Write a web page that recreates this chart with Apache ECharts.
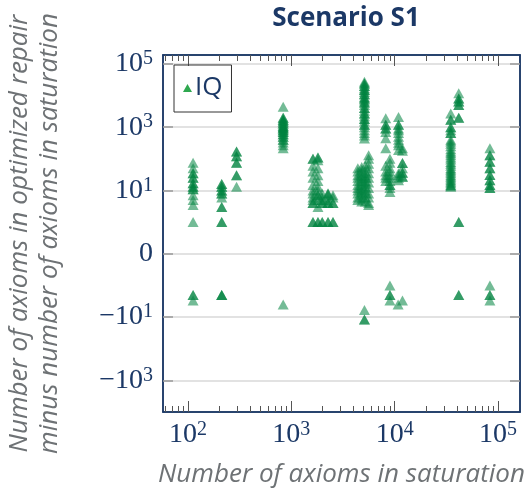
<!DOCTYPE html>
<html>
<head>
<meta charset="utf-8">
<script src="https://cdn.jsdelivr.net/npm/echarts@6/dist/echarts.min.js"></script>
<style>
html, body { margin: 0; padding: 0; background: #fff; }
#main { width: 529px; height: 492px; }
</style>
</head>
<body>
<div id="main"></div>
<script>
// number of axioms in saturation, one entry per column of points
var saturation = [112, 212, 295, 834, 1620, 1810, 1990, 2265, 2530, 4400, 4800, 5100, 5200, 5600,
                  8200, 9000, 10800, 10900, 11900, 34900, 41700, 83500];
// axioms in optimized repair minus axioms in saturation, per column (repeated values = stacked points)
var difference = [
  [75, 50, 35, 35, 25, 25, 17, 17, 13, 13, 11, 11, 7, 5, 3.5, 1, -2, -2, -3],
  [16, 16, 13, 13, 10, 10, 8, 8, 6, 3, 3, 1, 1, -2, -2, -2],
  [170, 170, 120, 120, 75, 75, 30, 30, 13],
  [4400, 2000, 2000, 1700, 1700, 1500, 1500, 1300, 1300, 1100, 1100, 1000, 1000, 900, 900, 800, 800,
   700, 700, 600, 600, 500, 500, 400, 400, 330, 270, 215, -4],
  [100, 100, 60, 40, 25, 15, 10, 8, 6, 5, 4, 4, 1, 1],
  [110, 110, 90, 50, 30, 20, 13, 10, 7, 7, 5, 3, 1, 1],
  [8, 6, 5, 4, 4, 1, 1],
  [8, 8, 7, 5, 4, 4, 1, 1],
  [7, 6, 4, 4, 1, 1],
  [50, 40, 30, 25, 20, 15, 12, 10, 8, 6, 5],
  [55, 45, 35, 28, 22, 18, 14, 11, 9, 7, 5.5, 4.5],
  [27000, 24000, 24000, 20000, 20000, 17000, 15000, 15000, 13000, 11000, 11000, 9000, 8000, 8000,
   7000, 6000, 6000, 5000, 4000, 4000, 3300, 2700, 2700, 2200, 1800, 1800, 1500, 1200, 1200, 1000,
   800, 650, 550, 440, -6, -12, -12],
  [60, 40, 30, 25, 20, 16, 13, 10, 8, 6, 4.5],
  [130, 100, 70, 50, 35, 25, 18, 12, 8, 6, 4, 3.5],
  [1900, 1200, 1200, 900, 900, 700, 450, 215, 60, 40, 30, 25, 20],
  [100, 75, 50, 40, 30, 25, 20, 15, 15, 12, 9, -1, -2, -2, -3],
  [-4],
  [2100, 1200, 1200, 900, 800, 650, 500, 400, 320, 270, 190, 35, 30, 25, 21],
  [215, 180, 74, 74, 50, 36, 36, 27, 27, -3],
  [2700, 1700, 1700, 1000, 1000, 800, 650, 650, 400, 350, 300, 250, 200, 170, 150, 130, 110, 95,
   80, 70, 60, 50, 45, 40, 35, 30, 27, 24, 21, 19, 17, 15, 14, 13],
  [11700, 8000, 8000, 6500, 6500, 5000, 5000, 2000, 2000, 1, 1, -2, -2],
  [215, 130, 130, 81, 81, 50, 50, 31, 31, 21, 21, 15, 15, 12, 12, -1, -2, -2, -3]
];
// tick positions (exponents)
var xMajor = [2, 3, 4, 5];
var yMajor = [-4, -2, 0, 2, 4, 6];

var xMin = 1.758, xMax = 5.213;
var yMin = -5, yMax = 6.28;

var navy = '#1b3866';
var tickGray = '#555';

// symmetric log: |v|>=1 -> sign * (log10|v| + 1)
function symlog(v) {
  if (Math.abs(v) < 1) return v;
  return Math.sign(v) * (Math.log10(Math.abs(v)) + 1);
}

var points = [];
for (var i = 0; i < saturation.length; i++) {
  for (var j = 0; j < difference[i].length; j++) {
    points.push([Math.log10(saturation[i]), symlog(difference[i][j])]);
  }
}

var xMinor = [];
for (var n = 1; n <= 5; n++) {
  for (var k = 2; k <= 9; k++) {
    var lv = Math.log10(k * Math.pow(10, n));
    if (lv > xMin && lv < xMax) xMinor.push(lv);
  }
}

var richNum = {
  b: { fontFamily: 'Liberation Serif', fontSize: 28, color: navy, lineHeight: 30 },
  s: { fontFamily: 'Liberation Serif', fontSize: 20, color: navy, lineHeight: 18, verticalAlign: 'top' }
};

function xLabel(v) {
  return '{b|10}{s|' + Math.round(v) + '}';
}
function yLabel(v) {
  if (Math.abs(v) < 1e-9) return '{b|0}';
  var e = Math.round(Math.abs(v) - 1);
  return '{b|' + (v < 0 ? '\u221210' : '10') + '}{s|' + e + '}';
}

// top ticks: grid 1 is a thin strip whose bottom edge is the top of the plot,
// its bottom x axes have outward ticks, so they hang down into the plot
function topAxis(ticks, len, line) {
  return {
    type: 'value', gridIndex: 1, position: 'bottom', min: xMin, max: xMax,
    axisLine: { show: line, onZero: false, lineStyle: { color: navy, width: 1.5 } },
    axisTick: { show: true, inside: false, length: len, customValues: ticks,
                lineStyle: { color: tickGray, width: 1 } },
    axisLabel: { show: false },
    splitLine: { show: false }
  };
}

var option = {
  animation: false,
  backgroundColor: '#fff',
  title: {
    text: 'Scenario S1', left: 341, top: 1, textAlign: 'center',
    textStyle: { fontFamily: 'Open Sans', fontWeight: 'bold', fontSize: 26, color: navy }
  },
  legend: {
    left: 174, top: 65, orient: 'vertical',
    padding: [10, 9, 11, 9],
    borderColor: '#333', borderWidth: 1,
    itemWidth: 9, itemHeight: 8, itemGap: 4,
    textStyle: { fontFamily: 'Open Sans', fontSize: 26, color: navy, padding: [0, 0, 0, -2] },
    data: [{ name: 'IQ', icon: 'triangle', itemStyle: { color: '#2fa84f', opacity: 1 } }]
  },
  grid: [
    { left: 163, right: 9, top: 55, bottom: 80, outerBoundsMode: 'none',
      show: true, borderColor: navy, borderWidth: 1.5, backgroundColor: 'transparent' },
    { left: 163, right: 9, top: 44, height: 11, outerBoundsMode: 'none' }
  ],
  xAxis: [
    {
      type: 'value', gridIndex: 0, position: 'bottom', min: xMin, max: xMax,
      axisLine: { show: true, onZero: false, lineStyle: { color: navy, width: 1.5 } },
      axisTick: { show: true, inside: true, length: 11, customValues: xMajor,
                  lineStyle: { color: tickGray, width: 1 } },
      axisLabel: { show: true, customValues: xMajor, margin: 8, formatter: xLabel, rich: richNum },
      splitLine: { show: false },
      name: 'Number of axioms in saturation',
      nameLocation: 'middle', nameGap: 50,
      nameTextStyle: { fontFamily: 'Open Sans', fontStyle: 'italic', fontSize: 26, color: '#6e7275' }
    },
    {
      type: 'value', gridIndex: 0, position: 'bottom', min: xMin, max: xMax,
      axisLine: { show: false, onZero: false },
      axisTick: { show: true, inside: true, length: 6, customValues: xMinor,
                  lineStyle: { color: tickGray, width: 1 } },
      axisLabel: { show: false },
      splitLine: { show: false }
    },
    topAxis(xMajor, 11, true),
    topAxis(xMinor, 6, false)
  ],
  yAxis: [
    {
      type: 'value', gridIndex: 0, position: 'left', min: yMin, max: yMax,
      axisLine: { show: true, onZero: false, lineStyle: { color: navy, width: 1.5 } },
      axisTick: { show: true, inside: true, length: 10, customValues: yMajor,
                  lineStyle: { color: '#999', width: 1.5 } },
      axisLabel: { show: true, customValues: yMajor, margin: 10, formatter: yLabel, rich: richNum },
      splitLine: { show: true, lineStyle: { color: '#d9d9d9', width: 1.5 } },
      name: 'Number of axioms in optimized repair\nminus number of axioms in saturation',
      nameLocation: 'middle', nameRotate: 90, nameGap: 98,
      nameTextStyle: { fontFamily: 'Open Sans', fontStyle: 'italic', fontSize: 26, color: '#6e7275', lineHeight: 30 }
    },
    {
      type: 'value', gridIndex: 0, position: 'right', min: yMin, max: yMax,
      axisLine: { show: true, onZero: false, lineStyle: { color: navy, width: 1.5 } },
      axisTick: { show: true, inside: true, length: 10, customValues: yMajor,
                  lineStyle: { color: '#999', width: 1.5 } },
      axisLabel: { show: false },
      splitLine: { show: false }
    },
    { type: 'value', gridIndex: 1, min: 0, max: 1, show: false }
  ],
  series: [{
    name: 'IQ',
    type: 'scatter',
    xAxisIndex: 0, yAxisIndex: 0,
    symbol: 'triangle',
    symbolSize: [11, 10],
    itemStyle: { color: '#00843f', opacity: 0.55 },
    data: points
  }]
};

var myChart = echarts.init(document.getElementById('main'));
myChart.setOption(option);
</script>
</body>
</html>
